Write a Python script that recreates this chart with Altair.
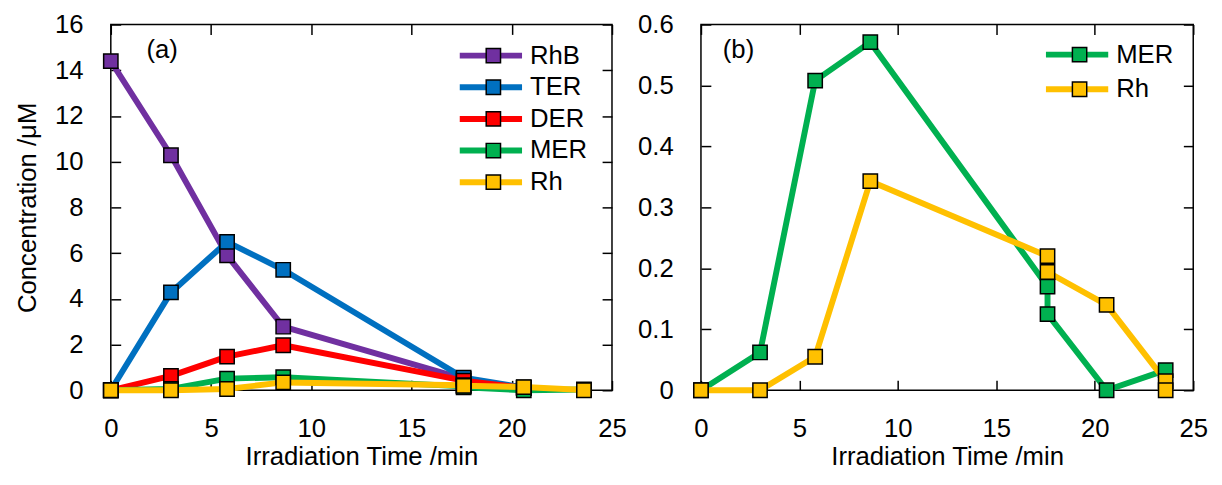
import altair as alt
import pandas as pd

# ---- data ----
series_a = ["RhB", "TER", "DER", "MER", "Rh"]
colors_a = ["#7030A0", "#0070C0", "#FF0000", "#00B050", "#FFC000"]
series_b = ["MER", "Rh"]
colors_b = ["#00B050", "#FFC000"]

t_main = [0, 3.0, 5.8, 8.6, 17.6, 20.6]
rhb = [14.4, 10.28, 5.9, 2.78, 0.50, 0.10]
ter = [0, 4.28, 6.49, 5.27, 0.55, 0.12]
der = [0, 0.63, 1.47, 1.97, 0.42, 0.10]

t_mer = [0, 3.0, 5.8, 8.6, 17.6, 17.6, 20.6, 23.6]
mer = [0, 0.062, 0.508, 0.571, 0.170, 0.125, 0, 0.033]
t_rh = [0, 3.0, 5.8, 8.6, 17.6, 17.6, 20.6, 23.6, 23.6]
rh = [0, 0, 0.055, 0.343, 0.220, 0.194, 0.140, 0.015, 0]

x_ticks = [0, 5, 10, 15, 20, 25]
y_ticks_a = [0, 2, 4, 6, 8, 10, 12, 14, 16]
y_ticks_b = [0, 0.1, 0.2, 0.3, 0.4, 0.5, 0.6]

FONT = "Liberation Sans"
FS = 26

TXT = dict(labelFont=FONT, labelFontSize=FS, labelColor="black", labelFlush=False,
           titleFont=FONT, titleFontSize=FS, titleColor="black", titleFontWeight="normal")
TICK = dict(offset=-10, tickSize=10, tickWidth=1.5, tickColor="black",
            labels=False, domain=False, grid=False, title=None)


def make_df(pairs):
    rows = []
    for name, ts, vs in pairs:
        for i, (t, v) in enumerate(zip(ts, vs)):
            rows.append({"t": t, "c": v, "series": name, "series_f": name, "idx": i})
    return pd.DataFrame(rows)


df_a = make_df([("RhB", t_main, rhb), ("TER", t_main, ter), ("DER", t_main, der),
                ("MER", t_mer, mer), ("Rh", t_rh, rh)])
df_b = make_df([("MER", t_mer, mer), ("Rh", t_rh, rh)])


def panel(df, series, colors, ymax, yvals, ytitle, tag, tag_x, tag_y, leg_x, leg_y, clip_h,
          width, height, yfmt):
    xs = alt.Scale(domain=[0, 25], nice=False, zero=False)
    ys = alt.Scale(domain=[0, ymax], nice=False, zero=False)
    base = alt.Chart(df)

    lines = base.mark_line(strokeWidth=6, strokeCap="butt", strokeJoin="round").encode(
        x=alt.X("t:Q", scale=xs, axis=alt.Axis(
            orient="bottom", title="Irradiation Time /min", values=x_ticks, ticks=False,
            domain=False, grid=False, labelPadding=26, titlePadding=2, **TXT)),
        y=alt.Y("c:Q", scale=ys, axis=alt.Axis(
            orient="left", values=yvals, ticks=False, domain=False, grid=False,
            labelPadding=28, titlePadding=14, format=yfmt, title=ytitle, **TXT)),
        color=alt.Color("series:N", scale=alt.Scale(domain=series, range=colors),
                        legend=alt.Legend(orient="none", legendX=leg_x, legendY=leg_y,
                                          title=None, symbolType="stroke", symbolStrokeWidth=6,
                                          symbolSize=3969, clipHeight=clip_h, rowPadding=0,
                                          padding=0, labelFontSize=FS, labelFont=FONT,
                                          labelColor="black", labelOffset=5)),
        order="idx:Q",
    )

    rev = list(reversed(series))
    revc = list(reversed(colors))
    points = base.mark_point(shape="square", filled=True, size=210, stroke="black",
                             strokeWidth=1.5, opacity=1).encode(
        x=alt.X("t:Q", scale=xs, axis=alt.Axis(orient="bottom", values=x_ticks, **TICK)),
        y=alt.Y("c:Q", scale=ys, axis=alt.Axis(orient="left", values=yvals, **TICK)),
        fill=alt.Fill("series_f:N", scale=alt.Scale(domain=rev, range=revc),
                      legend=alt.Legend(orient="none", legendX=leg_x + 24, legendY=leg_y,
                                        title=None, values=series, symbolType="square",
                                        symbolSize=210, symbolStrokeColor="black",
                                        symbolStrokeWidth=1.5, clipHeight=clip_h,
                                        rowPadding=0, padding=0, labelExpr="''",
                                        labelFontSize=FS)),
    )

    mirror = base.mark_point(opacity=0).encode(
        x=alt.X("t:Q", scale=xs, axis=alt.Axis(orient="top", values=x_ticks, **TICK)),
        y=alt.Y("c:Q", scale=ys, axis=alt.Axis(orient="right", values=yvals, **TICK)),
    )

    tag_df = pd.DataFrame({"lab": [tag]})
    tag_mark = alt.Chart(tag_df).mark_text(font=FONT, fontSize=FS, color="black",
                                           align="center", baseline="middle").encode(
        x=alt.value(tag_x), y=alt.value(tag_y), text="lab:N")

    return alt.layer(lines, points, mirror, tag_mark).resolve_axis(
        x="independent", y="independent"
    ).properties(width=width, height=height)


left = panel(df_a, series_a, colors_a, 16, y_ticks_a, "Concentration /\u03bcM", "(a)", 52, 26,
             350, 15.5, 32, 507, 370, "d")
right = panel(df_b, series_b, colors_b, 0.6, y_ticks_b, None, "(b)", 38, 26,
              346, 13, 35, 498, 370, ".1~f")

chart = alt.hconcat(left, right, spacing=9).resolve_scale(
    color="independent", fill="independent"
).configure_view(stroke="black", strokeWidth=1.5).properties(
    padding={"left": 6, "top": 0, "right": 5, "bottom": 0}
)

chart.save("out.html", embed_options={"renderer": "svg", "actions": False})
